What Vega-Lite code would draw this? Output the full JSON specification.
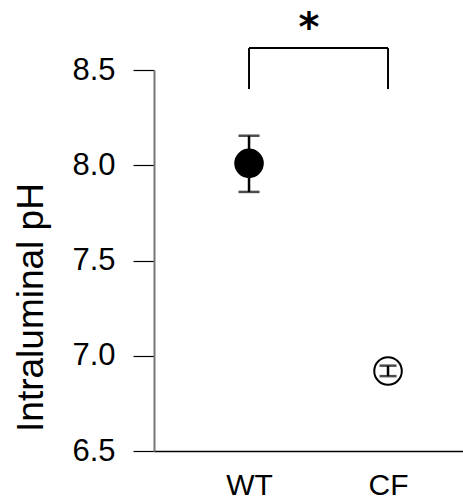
{
  "$schema": "https://vega.github.io/schema/vega-lite/v6.json",
  "width": 309,
  "height": 381,
  "autosize": {"type": "none"},
  "padding": {"left": 154, "top": 70, "right": 0, "bottom": 48},
  "background": "white",
  "config": {"view": {"stroke": null}, "font": "Liberation Sans"},
  "datasets": {
    "groups": [
      {"genotype": "WT", "mean": 8.01, "lower": 7.86, "upper": 8.155},
      {"genotype": "CF", "mean": 6.92, "lower": 6.893, "upper": 6.948}
    ],
    "bracket": [
      {"from": "WT", "to": "CF", "y1": 8.615, "y2": 8.615},
      {"from": "WT", "to": "WT", "y1": 8.40, "y2": 8.615},
      {"from": "CF", "to": "CF", "y1": 8.40, "y2": 8.615}
    ],
    "sig": [{"from": "WT", "y": 8.65, "label": "*"}]
  },
  "encoding": {
    "x": {
      "field": "genotype",
      "type": "nominal",
      "title": null,
      "scale": {"type": "point", "domain": ["WT", "CF"], "padding": 0.6115, "align": 0.559},
      "axis": {
        "labelAngle": 0,
        "labelFontSize": 30,
        "labelColor": "black",
        "labelPadding": 19,
        "ticks": false,
        "tickSize": 0,
        "domainColor": "black",
        "domainWidth": 1.5,
        "grid": false
      }
    }
  },
  "layer": [
    {
      "data": {"name": "groups"},
      "mark": {"type": "point", "shape": "circle", "size": 760, "stroke": "black", "strokeWidth": 2, "opacity": 1},
      "encoding": {
        "y": {
          "field": "mean",
          "type": "quantitative",
          "title": "Intraluminal pH",
          "scale": {"domain": [6.5, 8.5], "zero": false, "nice": false},
          "axis": {
            "values": [6.5, 7.0, 7.5, 8.0, 8.5],
            "format": ".1f",
            "labelFontSize": 31,
            "labelColor": "black",
            "labelPadding": 18,
            "tickSize": 21,
            "tickColor": "black",
            "tickWidth": 1.2,
            "domainColor": "#777777",
            "domainWidth": 2,
            "grid": false,
            "titleFontSize": 37,
            "titleFontWeight": "normal",
            "titleColor": "black",
            "titleAngle": -90,
            "titleX": -112,
            "titleY": 237,
            "titleAlign": "center",
            "titleBaseline": "alphabetic"
          }
        },
        "fill": {
          "field": "genotype",
          "type": "nominal",
          "scale": {"domain": ["WT", "CF"], "range": ["black", "white"]},
          "legend": null
        }
      }
    },
    {
      "data": {"name": "groups"},
      "mark": {"type": "rule", "color": "black", "strokeWidth": 2.5},
      "encoding": {
        "y": {"field": "lower", "type": "quantitative"},
        "y2": {"field": "upper"}
      }
    },
    {
      "data": {"name": "groups"},
      "mark": {"type": "tick", "orient": "horizontal", "color": "black", "thickness": 2.5},
      "encoding": {
        "y": {"field": "upper", "type": "quantitative"},
        "size": {"condition": {"test": "datum.genotype === 'WT'", "value": 21}, "value": 17}
      }
    },
    {
      "data": {"name": "groups"},
      "mark": {"type": "tick", "orient": "horizontal", "color": "black", "thickness": 2.5},
      "encoding": {
        "y": {"field": "lower", "type": "quantitative"},
        "size": {"condition": {"test": "datum.genotype === 'WT'", "value": 21}, "value": 17}
      }
    },
    {
      "data": {"name": "bracket"},
      "mark": {"type": "rule", "color": "black", "strokeWidth": 2},
      "encoding": {
        "x": {"field": "from", "type": "nominal"},
        "x2": {"field": "to"},
        "y": {"field": "y1", "type": "quantitative"},
        "y2": {"field": "y2"}
      }
    },
    {
      "data": {"name": "sig"},
      "mark": {"type": "text", "font": "DejaVu Sans", "fontSize": 40, "fontWeight": "bold", "baseline": "alphabetic", "align": "center", "dx": 60, "color": "black"},
      "encoding": {
        "x": {"field": "from", "type": "nominal"},
        "y": {"field": "y", "type": "quantitative"},
        "text": {"field": "label"}
      }
    }
  ]
}
